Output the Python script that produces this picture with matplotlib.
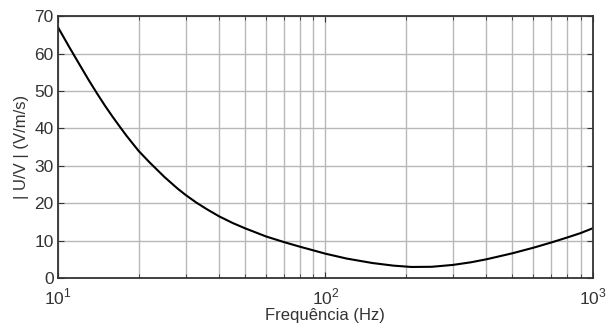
import matplotlib
matplotlib.use("Agg")
import matplotlib.pyplot as plt
import numpy as np
from matplotlib.ticker import LogLocator, NullFormatter

plt.rcParams['font.family'] = ['Liberation Sans', 'DejaVu Sans']
plt.rcParams['mathtext.fontset'] = 'custom'
plt.rcParams['mathtext.rm'] = 'Liberation Sans'

freq = [10, 11, 12, 13, 14, 15, 16, 17, 18, 20, 22, 25, 28, 30, 33, 36, 40, 45, 50,
        60, 70, 80, 90, 100, 120, 150, 180, 210, 250, 300, 350, 400, 500, 600, 700,
        800, 900, 1000]
uv = [67.0, 61.8, 57.2, 53.0, 49.3, 46.0, 43.1, 40.5, 38.1, 34.0, 30.9, 27.0, 23.9,
      22.2, 20.1, 18.4, 16.5, 14.7, 13.3, 11.1, 9.6, 8.4, 7.4, 6.5, 5.2, 4.0, 3.3,
      2.95, 3.0, 3.5, 4.2, 5.0, 6.6, 8.1, 9.5, 10.8, 12.0, 13.3]

y_ticks = [0, 10, 20, 30, 40, 50, 60, 70]
x_ticks = [10, 100, 1000]
x_ticklabels = [r'$10^{1}$', r'$10^{2}$', r'$10^{3}$']

fig = plt.figure(figsize=(6.07, 3.29), dpi=100)
ax = fig.add_axes([0.0956, 0.155, 0.881, 0.796])
ax.set_xscale('log')
ax.plot(freq, uv, color='black', lw=1.5)
ax.set_xlim(10, 1000)
ax.set_ylim(0, 70)
ax.set_yticks(y_ticks)
ax.set_xticks(x_ticks)
ax.set_xticklabels(x_ticklabels)
ax.xaxis.set_minor_locator(LogLocator(base=10, subs=np.arange(2, 10)))
ax.xaxis.set_minor_formatter(NullFormatter())
ax.grid(True, which='both', color='#b8b8b8', lw=1.0)
ax.tick_params(which='both', direction='in', top=True, right=True, labelsize=12.5,
               colors='#333333', length=4)
ax.tick_params(axis='x', which='major', pad=6)
ax.tick_params(axis='y', pad=3)
ax.tick_params(which='minor', length=3)
for s in ax.spines.values():
    s.set_color('#333333')
    s.set_linewidth(1.3)
ax.set_xlabel('Frequência (Hz)', fontsize=12, color='#333333', labelpad=1)
ax.set_ylabel('| U/V | (V/m/s)', fontsize=12, color='#333333', labelpad=4)
fig.savefig('out.png', dpi=100)
